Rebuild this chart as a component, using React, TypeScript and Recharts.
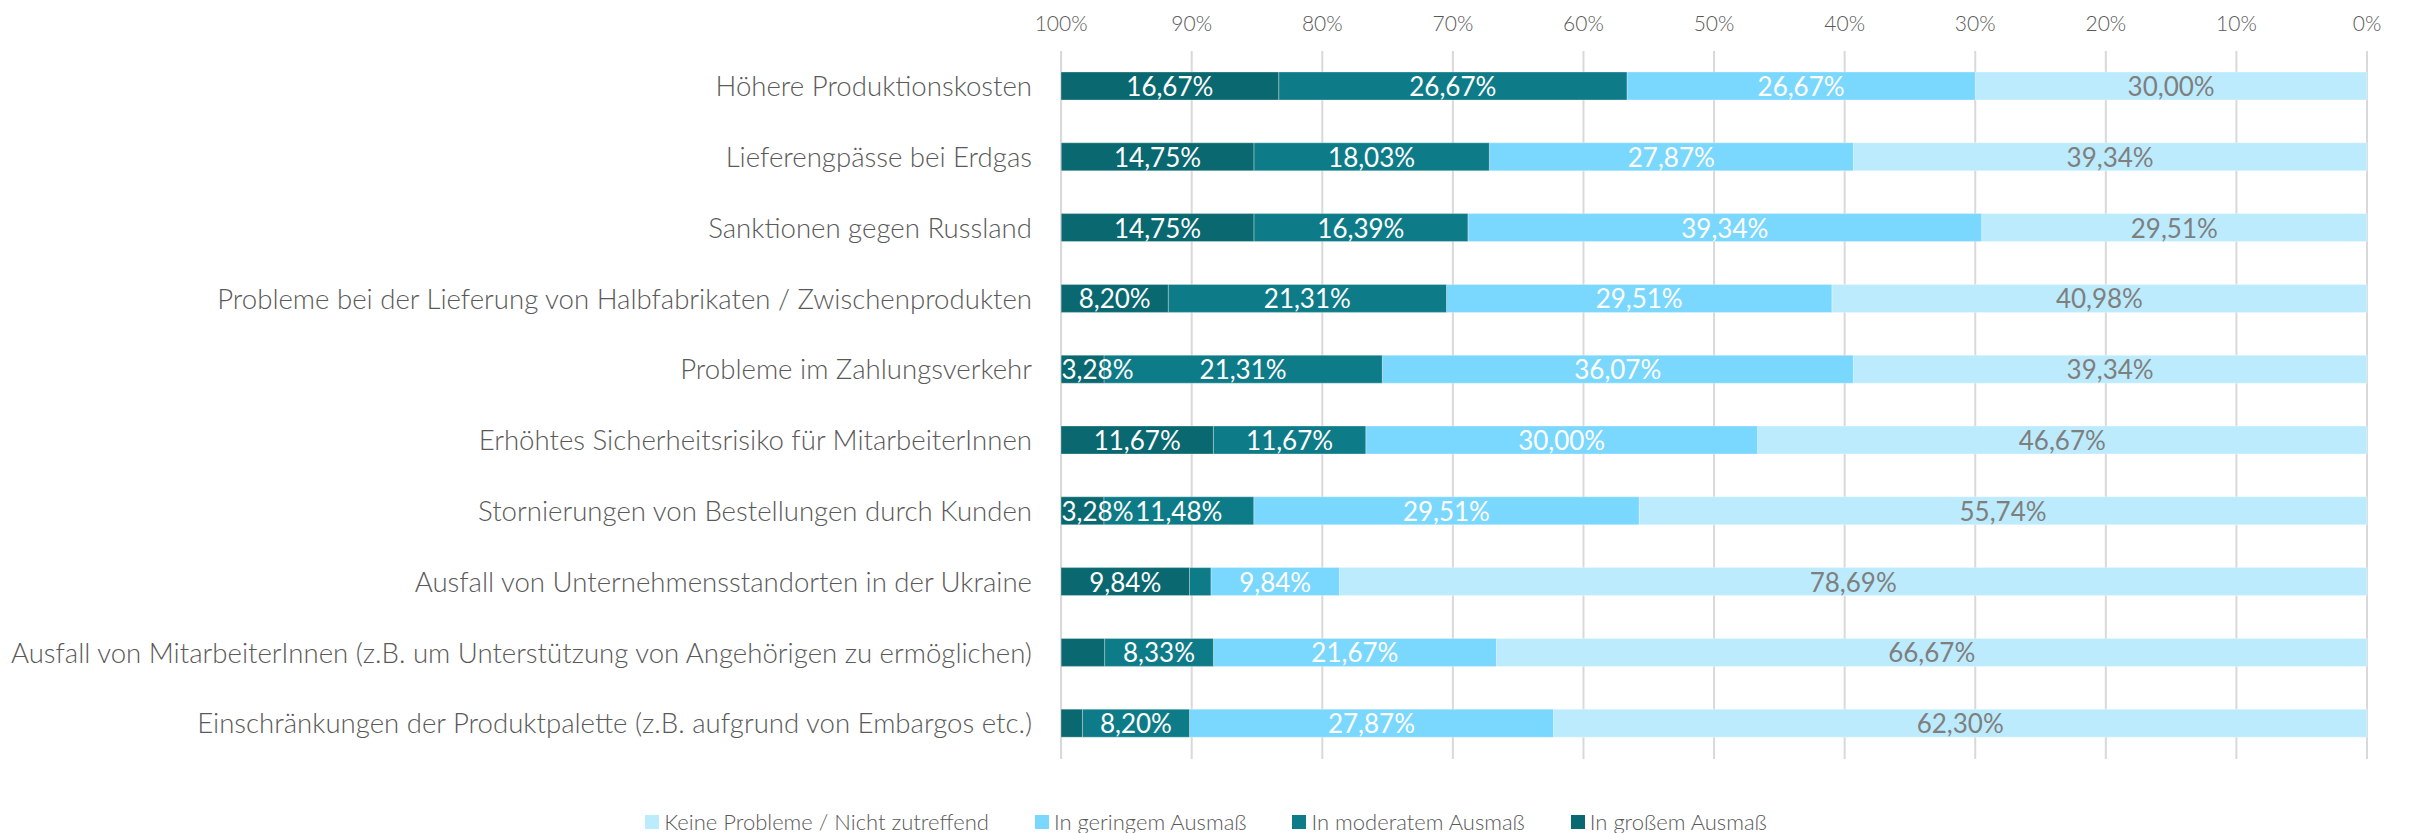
import { BarChart, Bar, XAxis, YAxis, CartesianGrid, Legend, LabelList } from "recharts"

const categories = [
  "Höhere Produktionskosten",
  "Lieferengpässe bei Erdgas",
  "Sanktionen gegen Russland",
  "Probleme bei der Lieferung von Halbfabrikaten / Zwischenprodukten",
  "Probleme im Zahlungsverkehr",
  "Erhöhtes Sicherheitsrisiko für MitarbeiterInnen",
  "Stornierungen von Bestellungen durch Kunden",
  "Ausfall von Unternehmensstandorten in der Ukraine",
  "Ausfall von MitarbeiterInnen (z.B. um Unterstützung von Angehörigen zu ermöglichen)",
  "Einschränkungen der Produktpalette (z.B. aufgrund von Embargos etc.)",
]

const keine = [30.0, 39.34, 29.51, 40.98, 39.34, 46.67, 55.74, 78.69, 66.67, 62.3]
const gering = [26.67, 27.87, 39.34, 29.51, 36.07, 30.0, 29.51, 9.84, 21.67, 27.87]
const moderat = [26.67, 18.03, 16.39, 21.31, 21.31, 11.67, 11.48, 1.64, 8.33, 8.2]
const gross = [16.67, 14.75, 14.75, 8.2, 3.28, 11.67, 3.28, 9.84, 3.33, 1.64]

const ticks = [0, 10, 20, 30, 40, 50, 60, 70, 80, 90, 100]

// labels that are not shown in the original (too small)
const hiddenLabels = ["moderat-7", "gross-8", "gross-9"]

const series = [
  { key: "keine", name: "Keine Probleme / Nicht zutreffend", color: "#BDEBFE", labelColor: "#7F7F7F" },
  { key: "gering", name: "In geringem Ausmaß", color: "#7AD7FE", labelColor: "#FFFFFF" },
  { key: "moderat", name: "In moderatem Ausmaß", color: "#0E7C88", labelColor: "#FFFFFF" },
  { key: "gross", name: "In großem Ausmaß", color: "#0A6870", labelColor: "#FFFFFF" },
]

const data = categories.map((name, i) => ({
  name,
  keine: keine[i],
  gering: gering[i],
  moderat: moderat[i],
  gross: gross[i],
}))

const FONT = "Lato, 'Open Sans', sans-serif"
const PLOT_LEFT = 1061
const LABEL_SIZE = 26

const fmt = (v: number) => v.toFixed(2).replace(".", ",") + "%"

function makeLabel(key: string, color: string) {
  return (props: any) => {
    const { x, y, width, height, value, index } = props
    if (value == null || hiddenLabels.includes(`${key}-${index}`)) return null
    const text = fmt(Number(value))
    const w = text.length * LABEL_SIZE * 0.5
    let cx = Number(x) + Number(width) / 2
    // keep the label inside the plot, like Excel does
    if (cx - w / 2 < PLOT_LEFT) cx = PLOT_LEFT + w / 2 + 4
    return (
      <text
        x={cx}
        y={Number(y) + Number(height) / 2}
        fill={color}
        fontSize={LABEL_SIZE}
        fontFamily={FONT}
        textAnchor="middle"
        dominantBaseline="central"
      >
        {text}
      </text>
    )
  }
}

function LegendContent() {
  return (
    <div
      style={{
        display: "flex",
        justifyContent: "center",
        gap: 46,
        fontFamily: FONT,
        fontSize: 22,
        fontWeight: 300,
        color: "#595959",
      }}
    >
      {series.map((s) => (
        <div key={s.key} style={{ display: "flex", alignItems: "center" }}>
          <span style={{ width: 14, height: 14, background: s.color, marginRight: 5, display: "inline-block" }} />
          <span>{s.name}</span>
        </div>
      ))}
    </div>
  )
}

export default function App() {
  return (
    <div style={{ position: "absolute", left: 0, top: 0, background: "#fff" }}>
      <BarChart
        width={2412}
        height={833}
        data={data}
        layout="vertical"
        barCategoryGap={0}
        margin={{ top: 0, right: 45, bottom: 47, left: 0 }}
      >
        <CartesianGrid horizontal={false} stroke="#D9D9D9" strokeWidth={2} />
        <XAxis
          type="number"
          orientation="top"
          reversed
          domain={[0, 100]}
          ticks={ticks}
          tickFormatter={(v) => `${v}%`}
          axisLine={false}
          tickLine={false}
          tickSize={0}
          tickMargin={20}
          height={51}
          interval={0}
          tick={{ fill: "#595959", fontSize: 21, fontFamily: FONT, fontWeight: 300 }}
        />
        <YAxis
          type="category"
          dataKey="name"
          width={1061}
          axisLine={false}
          tickLine={false}
          tickSize={0}
          tickMargin={29}
          interval={0}
          tick={{ fill: "#595959", fontSize: 27.6, fontFamily: FONT, fontWeight: 300 }}
        />
        <Legend verticalAlign="bottom" wrapperStyle={{ left: 0, width: 2412, bottom: -2 }} content={<LegendContent />} />
        {series.map((s) => (
          <Bar
            key={s.key}
            dataKey={s.key}
            name={s.name}
            stackId="a"
            fill={s.color}
            barSize={28}
            stroke="#FFFFFF"
            strokeWidth={0.6}
            strokeOpacity={0.5}
            isAnimationActive={false}
          >
            <LabelList dataKey={s.key} content={makeLabel(s.key, s.labelColor)} />
          </Bar>
        ))}
      </BarChart>
    </div>
  )
}
